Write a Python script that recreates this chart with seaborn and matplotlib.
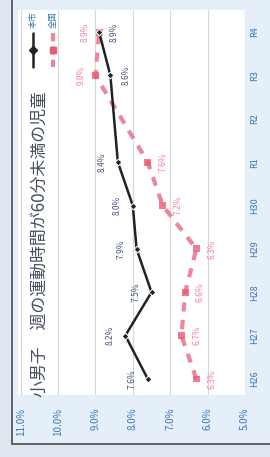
import numpy as np
import pandas as pd
import matplotlib
matplotlib.use("Agg")
import matplotlib.pyplot as plt
from matplotlib.patches import Rectangle
import seaborn as sns

# ===================== Data =====================
categories = ['H26', 'H27', 'H28', 'H29', 'H30', 'R1', 'R2', 'R3', 'R4']
city_values = [7.6, 8.2, 7.5, 7.9, 8.0, 8.4, np.nan, 8.6, 8.9]       # black line
national_values = [6.3, 6.7, 6.6, 6.3, 7.2, 7.6, np.nan, 9.0, 8.9]   # pink dashed line
pct_ticks = [11.0, 10.0, 9.0, 8.0, 7.0, 6.0, 5.0]
pct_labels = [f"{v:.1f}%" for v in pct_ticks]
legend_labels = ['本市', '全国']
title = '小男子　週の運動時間が60分未満の児童'

# ===================== Style =====================
sns.set_theme(style='white')
plt.rcParams['font.family'] = ['Noto Sans CJK JP', 'DejaVu Sans']

BLACK = '#1c2426'
PINK = '#f0849a'
PINK_MK = '#ea5a74'
BLUE = '#3a78b6'
LABEL_DARK = '#46567a'

df = pd.DataFrame({
    'pos': np.arange(len(categories)),
    'city': city_values,
    'national': national_values,
})

fig = plt.figure(figsize=(2.7, 4.57), dpi=100)
fig.patch.set_facecolor('#e0e6f0')

# panel with dark border (chart frame)
W, H = 270, 457
panel = Rectangle((12 / W, (H - 444) / H), 1.2, 1.2, transform=fig.transFigure,
                  facecolor='#e4eff9', edgecolor='#4a4a4a', lw=1.2, zorder=-5)
fig.patches.append(panel)

ax = fig.add_axes([18 / W, (H - 395) / H, 227 / W, 385 / H])
ax.set_zorder(2)
ax.set_facecolor('white')
for s in ax.spines.values():
    s.set_visible(False)

nat = df[['pos', 'national']].dropna()
sns.lineplot(data=nat, x='national', y='pos', orient='y', sort=False, ax=ax,
             color=PINK, lw=3, zorder=3)
ax.lines[-1].set_dashes([2.2, 2.0])
sns.scatterplot(data=nat, x='national', y='pos', ax=ax, color=PINK_MK, marker='s',
                s=24, edgecolor='none', zorder=4, alpha=0.8)

cty = df[['pos', 'city']].dropna()
sns.lineplot(data=cty, x='city', y='pos', orient='y', sort=False, ax=ax,
             color=BLACK, lw=1.8, marker='D', markersize=3.5, zorder=5)

# data labels
for p, v in zip(cty['pos'], cty['city']):
    dx = 11 if p >= 7 else -11
    ax.annotate(f"{v:.1f}%", (v, p), xytext=(dx, 0), textcoords='offset points',
                rotation=90, ha='center', va='center', fontsize=6, color=LABEL_DARK)
for p, v in zip(nat['pos'], nat['national']):
    dx = -10 if p >= 7 else 11
    ax.annotate(f"{v:.1f}%", (v, p), xytext=(dx, 0), textcoords='offset points',
                rotation=90, ha='center', va='center', fontsize=6, color=PINK)

# axes
ax.set_xlim(11.07, 5.0)
ax.set_ylim(-0.37, 8.51)
ax.set_xticks(pct_ticks)
ax.set_xticklabels(pct_labels, rotation=90, fontsize=7, color=BLUE)
ax.set_yticks(np.arange(len(categories)))
ax.set_yticklabels(categories, rotation=90, fontsize=6.5, color=BLUE, va='center')
ax.yaxis.tick_right()
ax.tick_params(axis='x', length=0, pad=9)
ax.tick_params(axis='y', length=0, pad=3.5)
ax.grid(axis='x', color='#d8d8d8', lw=0.8)
ax.grid(axis='y', visible=False)
ax.set_xlabel('')
ax.set_ylabel('')

# title
ax.text((40 - 18) / 227, (395 - 397) / 385, title, transform=ax.transAxes,
        rotation=90, ha='center', va='bottom', fontsize=12.2, color='#454d5e')

# legend (rotated, drawn by hand)
for xpx, col, lab, dashed in [(33, BLACK, legend_labels[0], False),
                              (53, PINK, legend_labels[1], True)]:
    xa = (xpx - 18) / 227
    ln, = ax.plot([xa, xa], [0.94, 0.852], transform=ax.transAxes, color=col,
                  lw=3 if dashed else 1.8, zorder=6)
    if dashed:
        ln.set_dashes([2.0, 1.2])
    ax.plot([xa], [0.896], transform=ax.transAxes, marker='s' if dashed else 'D',
            color=PINK_MK if dashed else BLACK, markersize=4, zorder=7)
    ax.text(xa, 0.975, lab, transform=ax.transAxes, rotation=90, ha='center',
            va='center', fontsize=6, color=BLUE)

fig.savefig('out.png', dpi=100, facecolor=fig.get_facecolor())
